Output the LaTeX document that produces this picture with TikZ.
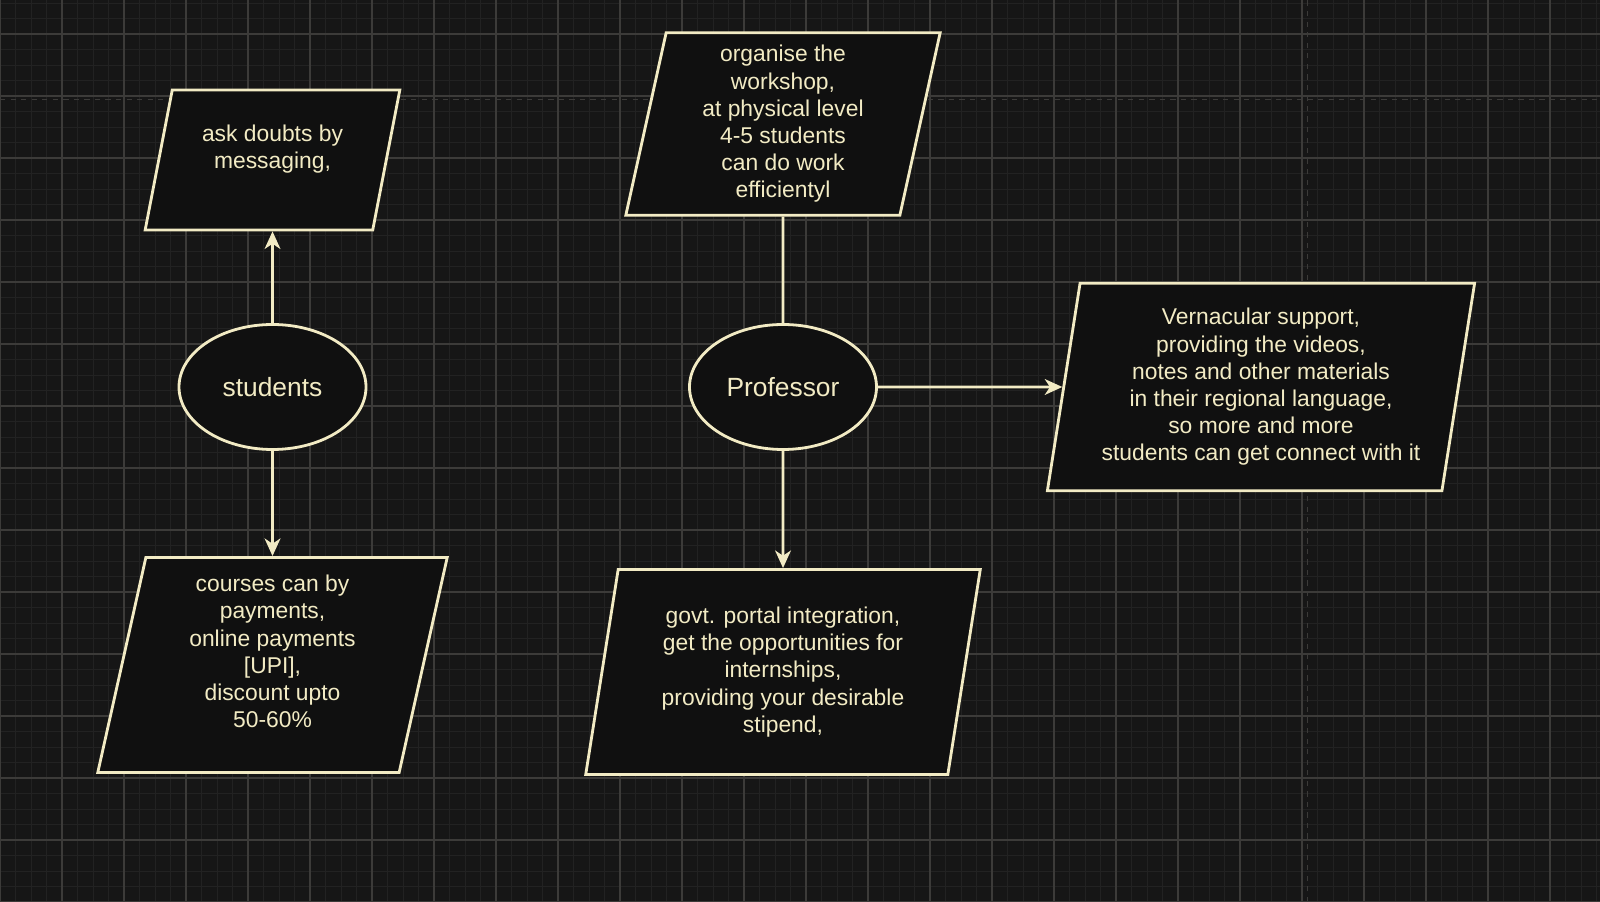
\documentclass[tikz,border=0pt]{standalone}
\usepackage{fontspec}
\setmainfont{Liberation Sans}
\usepackage{xcolor}
\usetikzlibrary{positioning,shapes.geometric,arrows.meta}
\definecolor{cream}{HTML}{F2EBC4}
\definecolor{bgdark}{HTML}{161616}
\definecolor{boxfill}{HTML}{101010}
\definecolor{minorgrid}{HTML}{222222}
\definecolor{majorgrid}{HTML}{3C3B39}

\begin{document}
\begin{tikzpicture}[
    box/.style={trapezium, trapezium left angle=80, trapezium right angle=100,
      trapezium stretches=true, draw=cream, fill=boxfill, line width=1.6pt,
      text=cream, align=center, font=\fontsize{13}{15.5}\selectfont},
    who/.style={ellipse, draw=cream, fill=boxfill, line width=1.6pt, text=cream,
      minimum width=3.74cm, minimum height=2.5cm, font=\fontsize{15}{18}\selectfont},
    link/.style={draw=cream, line width=1.5pt},
    arr/.style={link, -{Stealth[length=10pt,width=9pt,inset=3pt]}}
  ]
      \useasboundingbox (0,0) rectangle (32,18.04);
      \fill[bgdark] (0,0) rectangle (32,18.04);
      \draw[minorgrid, line width=0.4pt, step=0.31] (0,0) grid (32,18.04);
      \draw[majorgrid, line width=0.6pt, step=1.24] (0,0) grid (32,18.04);
      \draw[majorgrid, dashed, line width=0.8pt] (0,16.05) -- (32,16.05);
      \draw[majorgrid, dashed, line width=0.8pt] (26.15,0) -- (26.15,18.04);

      \node[who] (students) at (5.45,10.3) {students};
      \node[who] (prof) at (15.66,10.3) {Professor};

      \node[box, trapezium left angle=76, trapezium right angle=104,
        minimum width=5.1cm, minimum height=2.8cm] (doubts) at (5.45,14.84)
        {ask doubts by\\messaging,\\ \mbox{}};
      \node[box, minimum width=7cm, minimum height=4.3cm] (courses) at (5.45,4.74)
        {courses can by\\payments,\\online payments\\{[UPI]},\\discount upto\\50-60\%\\ \mbox{}};
      \node[box, minimum width=6.3cm, minimum height=3.65cm] (workshop) at (15.66,15.56)
        {organise the\\workshop,\\at physical level\\4-5 students\\can do work\\efficientyl};
      \node[box, minimum width=7.9cm, minimum height=4.1cm] (govt) at (15.66,4.6)
        {govt. portal integration,\\get the opportunities for\\internships,\\providing your desirable\\stipend,};
      \node[box, minimum width=8.55cm, minimum height=4.15cm] (vernacular) at (25.22,10.3)
        {Vernacular support,\\providing the videos,\\notes and other materials\\in their regional language,\\so more and more\\students can get connect with it};

      \draw[arr] (students) -- (doubts);
      \draw[arr] (students) -- (courses);
      \draw[link] (prof) -- (workshop);
      \draw[arr] (prof) -- (govt);
      \draw[arr] (prof) -- (vernacular);

    \end{tikzpicture}
\end{document}
